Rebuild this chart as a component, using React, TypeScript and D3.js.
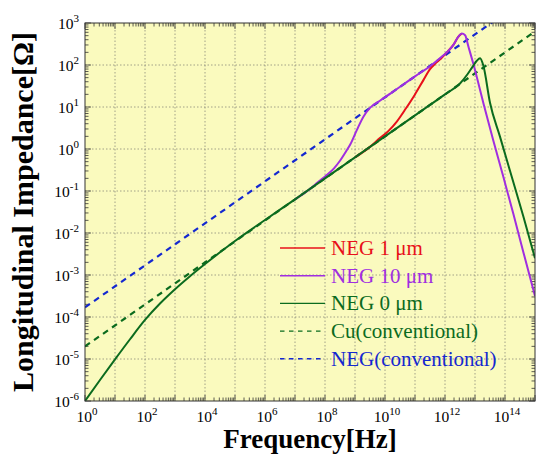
import { useEffect, useRef } from 'react';
import * as d3 from 'd3';

// values as log10(frequency) / log10(impedance)
const neg0LogF = [0, 0.5, 1, 1.5, 2, 2.5, 3, 3.5, 4, 4.5, 5, 6, 7, 8, 9, 10, 11, 12, 12.5, 12.75, 12.94, 13.06, 13.17, 13.28, 13.5, 13.83, 14.22, 14.61, 15];
const neg0LogZ = [-6, -5.5, -5.01, -4.53, -4.07, -3.68, -3.34, -3.03, -2.74, -2.46, -2.19, -1.69, -1.2, -0.7, -0.2, 0.3, 0.8, 1.3, 1.56, 1.78, 1.98, 2.1, 2.16, 1.98, 1.1, 0.3, -0.65, -1.6, -2.6];

const neg10LogF = [7, 7.5, 7.75, 8.06, 8.3, 8.5, 8.7, 8.85, 9.06, 9.28, 9.5, 9.83, 10.2, 10.6, 11, 11.5, 11.83, 12.1, 12.28, 12.44, 12.56, 12.67, 12.78, 12.94, 13.28, 13.61, 13.94, 14.28, 14.61, 15];
const neg10LogZ = [-1.2, -0.95, -0.8, -0.62, -0.46, -0.28, -0.06, 0.12, 0.45, 0.77, 0.98, 1.15, 1.33, 1.53, 1.73, 1.97, 2.16, 2.33, 2.48, 2.67, 2.75, 2.71, 2.44, 2.04, 1.09, 0.2, -0.65, -1.55, -2.45, -3.5];

const neg1LogF = [9, 9.5, 9.83, 10.1, 10.4, 10.7, 11, 11.28, 11.5, 11.7, 11.9, 12.1, 12.28, 12.44, 12.56];
const neg1LogZ = [-0.2, 0.05, 0.26, 0.42, 0.66, 0.97, 1.3, 1.64, 1.9, 2.05, 2.18, 2.33, 2.48, 2.67, 2.75];

const cuLogF = [0, 15];
const cuLogZ = [-4.7, 2.8];
const negConvLogF = [0, 15];
const negConvLogZ = [-3.77, 3.73];

const xTickExps = [0, 2, 4, 6, 8, 10, 12, 14];
const yTickExps = [-6, -5, -4, -3, -2, -1, 0, 1, 2, 3];

const legendLabels = ['NEG 1 \u03bcm', 'NEG 10 \u03bcm', 'NEG 0 \u03bcm', 'Cu(conventional)', 'NEG(conventional)'];

const RED = '#e8101a';
const PURPLE = '#a02ee0';
const GREEN = '#0b6b1e';
const BLUE = '#1428d0';

const App = () => {
  const ref = useRef<SVGSVGElement | null>(null);

  useEffect(() => {
    if (!ref.current) return;
    const svg = d3.select(ref.current);
    svg.selectAll('*').remove();

    const width = 539;
    const height = 456;
    const margin = { top: 23, right: 4, bottom: 55, left: 85 };
    const font = '"Liberation Serif", "Times New Roman", serif';

    const x = d3.scaleLog().domain([1, 1e15]).range([margin.left, width - margin.right]);
    const y = d3.scaleLog().domain([1e-6, 1e3]).range([height - margin.bottom, margin.top]);
    const [x0, x1] = x.range();
    const [y0, y1] = y.range();

    // plot background
    svg.append('rect')
      .attr('x', x0).attr('y', y1)
      .attr('width', x1 - x0).attr('height', y0 - y1)
      .attr('fill', '#fafabe');

    // dotted grid, every decade
    const xDecades = d3.range(0, 16).map(e => Math.pow(10, e));
    const yDecades = d3.range(-6, 4).map(e => Math.pow(10, e));
    const grid = svg.append('g')
      .attr('stroke', '#8a8a7a')
      .attr('stroke-width', 0.8)
      .attr('stroke-dasharray', '1.5,2');
    xDecades.slice(1, -1).forEach(v => {
      grid.append('line').attr('x1', x(v)).attr('x2', x(v)).attr('y1', y1).attr('y2', y0);
    });
    yDecades.slice(1, -1).forEach(v => {
      grid.append('line').attr('y1', y(v)).attr('y2', y(v)).attr('x1', x0).attr('x2', x1);
    });

    // inward ticks on all four sides
    const ticks = svg.append('g').attr('stroke', '#333').attr('stroke-width', 0.8);
    const minor = (lo: number, hi: number) => {
      const out: { v: number; major: boolean }[] = [];
      for (let e = lo; e < hi; e++) {
        for (let m = 1; m < 10; m++) out.push({ v: m * Math.pow(10, e), major: m === 1 });
      }
      out.push({ v: Math.pow(10, hi), major: true });
      return out;
    };
    minor(0, 15).forEach(t => {
      const len = t.major ? 6 : 3.5;
      const px = x(t.v);
      ticks.append('line').attr('x1', px).attr('x2', px).attr('y1', y0).attr('y2', y0 - len);
      ticks.append('line').attr('x1', px).attr('x2', px).attr('y1', y1).attr('y2', y1 + len);
    });
    minor(-6, 3).forEach(t => {
      const len = t.major ? 6 : 3.5;
      const py = y(t.v);
      ticks.append('line').attr('y1', py).attr('y2', py).attr('x1', x0).attr('x2', x0 + len);
      ticks.append('line').attr('y1', py).attr('y2', py).attr('x1', x1).attr('x2', x1 - len);
    });

    // curves
    const clipId = 'plot-clip';
    svg.append('clipPath').attr('id', clipId)
      .append('rect').attr('x', x0).attr('y', y1).attr('width', x1 - x0).attr('height', y0 - y1);

    const line = d3.line<[number, number]>()
      .x(d => x(Math.pow(10, d[0])))
      .y(d => y(Math.pow(10, d[1])))
      .curve(d3.curveMonotoneX);

    const series = [
      { f: negConvLogF, z: negConvLogZ, color: BLUE, dash: '6,5', w: 2.2 },
      { f: cuLogF, z: cuLogZ, color: GREEN, dash: '6,5', w: 2.2 },
      { f: neg1LogF, z: neg1LogZ, color: RED, dash: null, w: 2 },
      { f: neg10LogF, z: neg10LogZ, color: PURPLE, dash: null, w: 2 },
      { f: neg0LogF, z: neg0LogZ, color: GREEN, dash: null, w: 2 },
    ];
    const plot = svg.append('g').attr('clip-path', `url(#${clipId})`);
    series.forEach(s => {
      plot.append('path')
        .datum(s.f.map((v, i) => [v, s.z[i]] as [number, number]))
        .attr('fill', 'none')
        .attr('stroke', s.color)
        .attr('stroke-width', s.w)
        .attr('stroke-dasharray', s.dash)
        .attr('d', line);
    });

    // frame
    svg.append('rect')
      .attr('x', x0).attr('y', y1)
      .attr('width', x1 - x0).attr('height', y0 - y1)
      .attr('fill', 'none').attr('stroke', '#333').attr('stroke-width', 1);

    // tick labels as 10^n
    xTickExps.forEach(e => {
      const t = svg.append('text')
        .attr('x', x(Math.pow(10, e)) + 2)
        .attr('y', y0 + 21)
        .attr('text-anchor', 'middle')
        .style('font-family', font)
        .style('font-size', '15.5px');
      t.append('tspan').text('10');
      t.append('tspan').attr('dy', -7).style('font-size', '11px').text(String(e));
    });
    yTickExps.forEach(e => {
      const t = svg.append('text')
        .attr('x', x0 - 6)
        .attr('y', y(Math.pow(10, e)) + 6)
        .attr('text-anchor', 'end')
        .style('font-family', font)
        .style('font-size', '15.5px');
      t.append('tspan').text('10');
      t.append('tspan').attr('dy', -7).style('font-size', '11px').text(e < 0 ? `-${-e}` : String(e));
    });

    // axis titles
    svg.append('text')
      .attr('x', (x0 + x1) / 2)
      .attr('y', 448)
      .attr('text-anchor', 'middle')
      .style('font-family', font)
      .style('font-weight', 'bold')
      .style('font-size', '27px')
      .text('Frequency[Hz]');
    svg.append('text')
      .attr('transform', `translate(33,${(y0 + y1) / 2}) rotate(-90)`)
      .attr('text-anchor', 'middle')
      .style('font-family', font)
      .style('font-weight', 'bold')
      .style('font-size', '30px')
      .text('Longitudinal Impedance[\u03a9]');

    // legend
    const legendColors = [RED, PURPLE, GREEN, GREEN, BLUE];
    const legendDash = [null, null, null, '4.5,4.5', '4.5,4.5'];
    const legend = svg.append('g').attr('transform', 'translate(280,248)');
    legendLabels.forEach((label, i) => {
      const g = legend.append('g').attr('transform', `translate(0,${i * 27.7})`);
      g.append('line')
        .attr('x1', 0).attr('x2', 45).attr('y1', 0).attr('y2', 0)
        .attr('stroke', legendColors[i])
        .attr('stroke-width', 1.4)
        .attr('stroke-dasharray', legendDash[i]);
      g.append('text')
        .attr('x', 51)
        .attr('y', 7)
        .attr('fill', legendColors[i])
        .style('font-family', font)
        .style('font-size', '21px')
        .text(label);
    });

    return () => {
      svg.selectAll('*').remove();
    };
  }, []);

  return (
    <svg
      ref={ref}
      width={539}
      height={456}
      style={{ position: 'absolute', left: 0, top: 0, background: '#fff' }}
    />
  );
};

export default App;
